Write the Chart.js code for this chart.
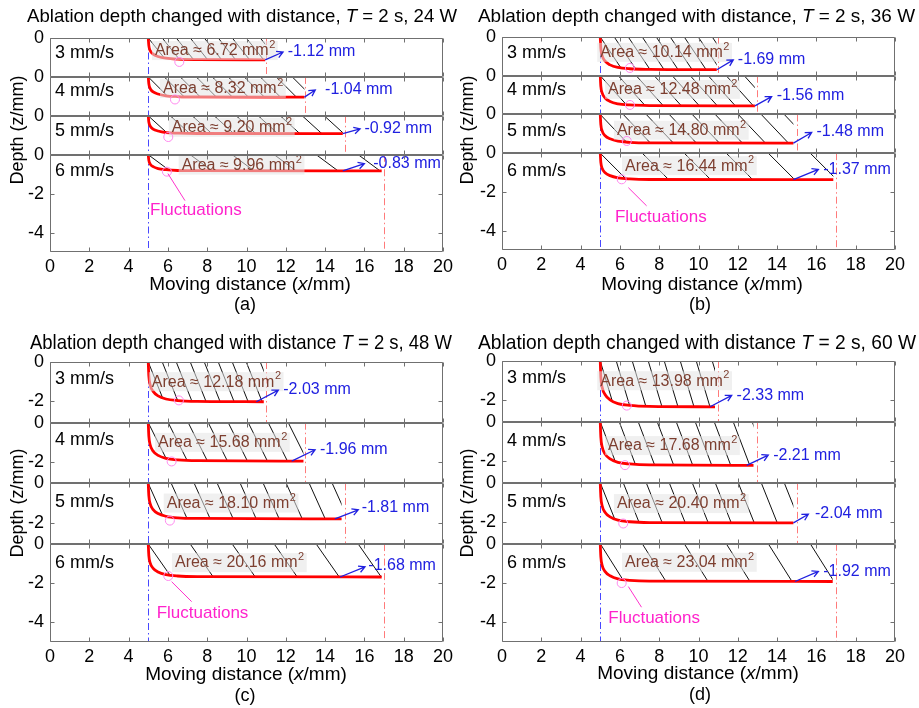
<!DOCTYPE html>
<html><head><meta charset="utf-8">
<script src="https://cdn.jsdelivr.net/npm/chart.js@4.4.0/dist/chart.umd.min.js"></script>
<style>
html,body{margin:0;padding:0;background:#fff;width:919px;height:708px;overflow:hidden}
canvas{position:absolute;display:block}
</style></head><body>
<canvas id="pa" width="459" height="325" style="left:0;top:0"></canvas>
<canvas id="pb" width="460" height="325" style="left:459px;top:0"></canvas>
<canvas id="pc" width="459" height="383" style="left:0;top:325px"></canvas>
<canvas id="pd" width="460" height="383" style="left:459px;top:325px"></canvas>
<script>
// ================= DATA =================
const speeds = ['3 mm/s', '4 mm/s', '5 mm/s', '6 mm/s'];
const powers = ['24 W', '36 W', '48 W', '60 W'];
const panelTags = ['(a)', '(b)', '(c)', '(d)'];
const xTickValues = [0, 2, 4, 6, 8, 10, 12, 14, 16, 18, 20];
const laserStartX = 5;
const scanEndX = [11, 13, 15, 17];
const kneeX = [5, 5.03, 5.1, 5.25, 5.5, 5.9, 6.5, 7.5];

const curveEndX24W = [10.95, 12.95, 14.9, 16.88];
const curveEndX36W = [10.93, 12.87, 14.83, 16.86];
const curveEndX48W = [10.88, 12.9, 14.84, 16.88];
const curveEndX60W = [10.84, 12.8, 14.83, 16.83];

// depth profile (mm) at kneeX points followed by the curve end point, one row per speed
const depth24W = [
  [0, -0.39, -0.65, -0.83, -0.95, -1.04, -1.09, -1.11, -1.12],
  [0, -0.36, -0.60, -0.77, -0.88, -0.97, -1.01, -1.03, -1.04],
  [0, -0.32, -0.53, -0.68, -0.78, -0.86, -0.89, -0.91, -0.92],
  [0, -0.29, -0.48, -0.61, -0.71, -0.77, -0.81, -0.82, -0.83]
];
const depth36W = [
  [0, -0.59, -0.98, -1.25, -1.44, -1.57, -1.64, -1.67, -1.69],
  [0, -0.55, -0.90, -1.15, -1.33, -1.45, -1.51, -1.54, -1.56],
  [0, -0.52, -0.86, -1.10, -1.26, -1.38, -1.44, -1.47, -1.48],
  [0, -0.48, -0.79, -1.01, -1.16, -1.27, -1.33, -1.36, -1.37]
];
const depth48W = [
  [0, -0.71, -1.18, -1.50, -1.73, -1.89, -1.97, -2.01, -2.03],
  [0, -0.69, -1.14, -1.45, -1.67, -1.82, -1.90, -1.94, -1.96],
  [0, -0.63, -1.05, -1.34, -1.54, -1.68, -1.76, -1.79, -1.81],
  [0, -0.59, -0.97, -1.24, -1.43, -1.56, -1.63, -1.66, -1.68]
];
const depth60W = [
  [0, -0.82, -1.35, -1.72, -1.98, -2.17, -2.26, -2.31, -2.33],
  [0, -0.77, -1.28, -1.64, -1.88, -2.06, -2.14, -2.19, -2.21],
  [0, -0.71, -1.18, -1.51, -1.73, -1.90, -1.98, -2.02, -2.04],
  [0, -0.67, -1.11, -1.42, -1.63, -1.79, -1.86, -1.90, -1.92]
];
const finalDepth24W = [-1.12, -1.04, -0.92, -0.83];
const finalDepth36W = [-1.69, -1.56, -1.48, -1.37];
const finalDepth48W = [-2.03, -1.96, -1.81, -1.68];
const finalDepth60W = [-2.33, -2.21, -2.04, -1.92];
const area24W = [6.72, 8.32, 9.20, 9.96];
const area36W = [10.14, 12.48, 14.80, 16.44];
const area48W = [12.18, 15.68, 18.10, 20.16];
const area60W = [13.98, 17.68, 20.40, 23.04];

const yMinUpper = [-2, -2, -3.1, -3.1];
const yMinLower = -5;
const upperTickValues = [[0], [0], [0, -2], [0, -2]];
const lowerTickValues = [0, -2, -4];

// ============ ANNOTATION ANCHORS (data coordinates) ============
const areaLabelAt = [
  [[5.34, -0.67], [5.75, -0.62], [6.2, -0.62], [6.7, -0.56]],
  [[5.0, -0.82], [5.4, -0.73], [5.85, -0.84], [6.26, -0.67]],
  [[5.18, -1.03], [5.5, -1.03], [5.94, -1.03], [6.36, -0.97]],
  [[5.0, -1.03], [5.4, -1.23], [5.85, -1.08], [6.26, -0.97]]
];
const depthArrow = [
  [[10.95, -1.12, 11.86, -0.72], [12.95, -1.04, 13.5, -0.67], [14.9, -0.92, 15.78, -0.67], [14.9, -0.83, 16.0, -0.46]],
  [[10.93, -1.69, 11.77, -1.18], [12.87, -1.56, 13.72, -1.08], [14.83, -1.48, 15.76, -0.93], [14.83, -1.37, 16.1, -0.84]],
  [[10.5, -2.03, 11.62, -1.44], [12.3, -1.96, 13.49, -1.38], [14.5, -1.81, 15.69, -1.35], [14.76, -1.68, 16.03, -1.16]],
  [[10.59, -2.33, 11.69, -1.75], [12.45, -2.21, 13.55, -1.69], [14.83, -2.04, 15.59, -1.6], [14.91, -1.92, 16.1, -1.41]]
];
const depthLabelAt = [
  [[12.1, -0.72], [14.0, -0.67], [16.0, -0.67], [16.45, -0.46]],
  [[12.0, -1.15], [13.98, -1.04], [16.0, -0.9], [16.35, -0.87]],
  [[11.87, -1.41], [13.74, -1.35], [15.86, -1.25], [16.2, -1.12]],
  [[11.94, -1.75], [13.8, -1.69], [15.93, -1.55], [16.35, -1.41]]
];
const fluctCircleAt = [
  [[6.58, -1.23], [6.36, -1.16], [6.02, -1.09], [5.95, -0.87]],
  [[6.51, -1.6], [6.51, -1.51], [6.35, -1.37], [6.09, -1.35]],
  [[6.56, -1.96], [6.19, -1.98], [6.1, -1.9], [6.02, -1.63]],
  [[6.35, -2.27], [6.26, -2.2], [6.17, -2.07], [6.09, -2.0]]
];
const fluctLabelAt = [[5.09, -2.87], [5.75, -3.32], [5.43, -3.54], [5.41, -3.79]];
const fluctLeader = [[6.0, -0.97, 6.87, -2.36], [6.43, -1.78, 7.36, -2.72], [6.19, -1.92, 7.21, -2.94], [6.43, -2.18, 7.1, -3.23]];
const speedLabelY = [[-0.78, -0.73, -0.78, -0.82], [-0.82, -0.73, -0.84, -0.92], [-0.88, -0.9, -0.96, -0.98], [-0.87, -0.96, -0.96, -0.98]];

// ============ STYLE / LAYOUT ============
const FONT = "'Liberation Sans', Arial, Helvetica, sans-serif";
const hatchSpacing = [[14, 16, 22, 42], [14, 18, 23, 42], [14, 20, 23, 42], [16, 19, 23, 42]];
const hatchRatio = [[0.8, 1.0, 1.1, 1.35], [0.67, 0.9, 0.95, 1.0], [0.4, 0.5, 0.45, 0.7], [0.3, 0.38, 0.4, 0.63]];

const layouts = [
  {canvas: 'pa', yAxisWidth: 50, padRight: 16, padTop: 38, xAxisHeight: 73,
   title: {cx: 242, cy: 17, w: 430, size: 19, comma: true},
   xTitle: {cx: 250, cy: 285}, tag: {cx: 245, cy: 305}, yTitle: {cx: 18, cy: 130}},
  {canvas: 'pb', yAxisWidth: 43, padRight: 24, padTop: 37, xAxisHeight: 75,
   title: {cx: 237.5, cy: 17, w: 437, size: 19, comma: true},
   xTitle: {cx: 243, cy: 285}, tag: {cx: 241, cy: 305}, yTitle: {cx: 9, cy: 130}},
  {canvas: 'pc', yAxisWidth: 50, padRight: 16, padTop: 37, xAxisHeight: 66,
   title: {cx: 241, cy: 18, w: 422, size: 21, comma: false},
   xTitle: {cx: 246, cy: 350}, tag: {cx: 245, cy: 371}, yTitle: {cx: 18, cy: 178}},
  {canvas: 'pd', yAxisWidth: 43, padRight: 24, padTop: 36, xAxisHeight: 66,
   title: {cx: 238, cy: 18, w: 438, size: 21, comma: false},
   xTitle: {cx: 239, cy: 349}, tag: {cx: 241, cy: 370}, yTitle: {cx: 9, cy: 178}}
];

const depths = [depth24W, depth36W, depth48W, depth60W];
const finals = [finalDepth24W, finalDepth36W, finalDepth48W, finalDepth60W];
const areas = [area24W, area36W, area48W, area60W];
const ends = [curveEndX24W, curveEndX36W, curveEndX48W, curveEndX60W];

function dashedV(ctx, x, y1, y2, color) {
  ctx.save();
  ctx.strokeStyle = color; ctx.lineWidth = 1;
  ctx.setLineDash([7, 3, 1.5, 3]);
  ctx.beginPath(); ctx.moveTo(Math.round(x) + 0.5, y1); ctx.lineTo(Math.round(x) + 0.5, y2); ctx.stroke();
  ctx.restore();
}

function arrow(ctx, x1, y1, x2, y2, color) {
  ctx.save();
  ctx.strokeStyle = color; ctx.lineWidth = 1.3;
  ctx.beginPath(); ctx.moveTo(x1, y1); ctx.lineTo(x2, y2);
  const a = Math.atan2(y2 - y1, x2 - x1), L = 7, s = 0.5;
  ctx.moveTo(x2 - L * Math.cos(a - s), y2 - L * Math.sin(a - s));
  ctx.lineTo(x2, y2);
  ctx.lineTo(x2 - L * Math.cos(a + s), y2 - L * Math.sin(a + s));
  ctx.stroke();
  ctx.restore();
}

function makePlugin(p) {
  const L = layouts[p];
  return {
    id: 'panel' + p,
    beforeDatasetsDraw(chart) {
      const ctx = chart.ctx, xs = chart.scales.x, area = chart.chartArea;
      for (let i = 0; i < 4; i++) {
        const ys = chart.scales['s' + i];
        const pts = chart.data.datasets[i].data;
        const y0 = ys.getPixelForValue(0);
        ctx.save();
        ctx.beginPath();
        ctx.moveTo(xs.getPixelForValue(pts[0].x), y0);
        ctx.lineTo(xs.getPixelForValue(pts[pts.length - 1].x), y0);
        for (let k = pts.length - 1; k >= 0; k--) ctx.lineTo(xs.getPixelForValue(pts[k].x), ys.getPixelForValue(pts[k].y));
        ctx.closePath();
        ctx.clip();
        ctx.strokeStyle = '#111'; ctx.lineWidth = 1;
        const h = ys.bottom - ys.top;
        const xStart = xs.getPixelForValue(laserStartX), xEnd = xs.getPixelForValue(pts[pts.length - 1].x);
        ctx.beginPath();
        for (let xt = xStart; xt < xEnd; xt += hatchSpacing[p][i]) {
          ctx.moveTo(xt, y0); ctx.lineTo(xt + hatchRatio[p][i] * h, y0 + h);
        }
        ctx.stroke();
        ctx.restore();
        dashedV(ctx, xs.getPixelForValue(scanEndX[i]), ys.top, ys.bottom, '#ff7a7a');
      }
      dashedV(ctx, xs.getPixelForValue(laserStartX), area.top, area.bottom, '#4848ff');
    },
    afterDatasetsDraw(chart) {
      const ctx = chart.ctx, xs = chart.scales.x, area = chart.chartArea;
      const X = v => xs.getPixelForValue(v);
      ctx.save();
      ctx.textBaseline = 'middle'; ctx.textAlign = 'left';
      for (let i = 0; i < 4; i++) {
        const ys = chart.scales['s' + i];
        const Y = v => ys.getPixelForValue(v);
        ctx.font = '18px ' + FONT; ctx.fillStyle = '#000';
        ctx.fillText(speeds[i], area.left + 5, Y(speedLabelY[p][i]));
        const txt = 'Area \u2248 ' + areas[p][i].toFixed(2) + ' mm';
        ctx.font = '16px ' + FONT;
        const w1 = ctx.measureText(txt).width;
        ctx.font = '11px ' + FONT;
        const w2 = ctx.measureText('2').width;
        const ax = X(areaLabelAt[p][i][0]), ay = Y(areaLabelAt[p][i][1]);
        ctx.fillStyle = 'rgba(228,228,228,0.55)';
        ctx.fillRect(ax - 3, ay - 10, w1 + w2 + 6, 19);
        ctx.fillStyle = '#7d3f30';
        ctx.font = '16px ' + FONT;
        ctx.fillText(txt, ax, ay);
        ctx.font = '11px ' + FONT;
        ctx.fillText('2', ax + w1 + 0.5, ay - 6);
        const c = fluctCircleAt[p][i];
        ctx.strokeStyle = '#ff88ee'; ctx.lineWidth = 1;
        ctx.beginPath(); ctx.arc(X(c[0]), Y(c[1]), 4.5, 0, Math.PI * 2); ctx.stroke();
        const d = depthArrow[p][i];
        arrow(ctx, X(d[0]), Y(d[1]), X(d[2]), Y(d[3]), '#2020e0');
        ctx.fillStyle = '#2020e0';
        ctx.font = '16px ' + FONT;
        ctx.fillText(finals[p][i].toFixed(2) + ' mm', X(depthLabelAt[p][i][0]), Y(depthLabelAt[p][i][1]));
      }
      const yb = chart.scales.s3;
      const f = fluctLeader[p];
      ctx.strokeStyle = '#ff33cc'; ctx.lineWidth = 1;
      ctx.beginPath(); ctx.moveTo(X(f[0]), yb.getPixelForValue(f[1])); ctx.lineTo(X(f[2]), yb.getPixelForValue(f[3])); ctx.stroke();
      ctx.fillStyle = '#ff22cc'; ctx.font = '17px ' + FONT;
      ctx.fillText('Fluctuations', X(fluctLabelAt[p][0]), yb.getPixelForValue(fluctLabelAt[p][1]));

      ctx.strokeStyle = '#707070'; ctx.lineWidth = 1;
      const l = Math.round(area.left) + 0.5, r = Math.round(area.right) - 0.5;
      for (let i = 0; i < 4; i++) {
        const ys = chart.scales['s' + i];
        const t = Math.round(ys.top) + 0.5, b = Math.round(ys.bottom) - 0.5;
        ctx.beginPath();
        ctx.rect(l, t, r - l, b - t);
        for (const v of xTickValues) {
          const px = Math.round(X(v)) + 0.5;
          ctx.moveTo(px, t); ctx.lineTo(px, t + 4);
          ctx.moveTo(px, b); ctx.lineTo(px, b - 4);
        }
        const tv = i === 3 ? lowerTickValues : upperTickValues[p];
        for (const v of tv) {
          const py = Math.round(ys.getPixelForValue(v)) + 0.5;
          ctx.moveTo(l, py); ctx.lineTo(l + 4, py);
          ctx.moveTo(r, py); ctx.lineTo(r - 4, py);
        }
        ctx.stroke();
      }
      ctx.restore();
    },
    afterDraw(chart) {
      const ctx = chart.ctx;
      ctx.save();
      ctx.fillStyle = '#000'; ctx.textBaseline = 'middle';
      const T = L.title;
      const parts = [
        {t: 'Ablation depth changed with distance' + (T.comma ? ', ' : ' '), it: false},
        {t: 'T', it: true},
        {t: ' = 2 s, ' + powers[p], it: false}
      ];
      let total = 0;
      for (const q of parts) { ctx.font = (q.it ? 'italic ' : '') + T.size + 'px ' + FONT; q.w = ctx.measureText(q.t).width; total += q.w; }
      ctx.save();
      ctx.translate(T.cx - T.w / 2, T.cy);
      ctx.scale(T.w / total, 1);
      ctx.textAlign = 'left';
      let x = 0;
      for (const q of parts) { ctx.font = (q.it ? 'italic ' : '') + T.size + 'px ' + FONT; ctx.fillText(q.t, x, 0); x += q.w; }
      ctx.restore();
      const xp = [{t: 'Moving distance (', it: false}, {t: 'x', it: true}, {t: '/mm)', it: false}];
      total = 0;
      for (const q of xp) { ctx.font = (q.it ? 'italic ' : '') + '19px ' + FONT; q.w = ctx.measureText(q.t).width; total += q.w; }
      ctx.textAlign = 'left';
      x = L.xTitle.cx - total / 2;
      for (const q of xp) { ctx.font = (q.it ? 'italic ' : '') + '19px ' + FONT; ctx.fillText(q.t, x, L.xTitle.cy); x += q.w; }
      ctx.textAlign = 'center'; ctx.font = '18px ' + FONT;
      ctx.fillText(panelTags[p], L.tag.cx, L.tag.cy);
      ctx.save();
      ctx.translate(L.yTitle.cx, L.yTitle.cy);
      ctx.rotate(-Math.PI / 2);
      ctx.font = '18px ' + FONT;
      ctx.fillText('Depth (z/mm)', 0, 0);
      ctx.restore();
      ctx.restore();
    }
  };
}

function buildPanel(p) {
  const L = layouts[p];
  const scales = {
    x: {
      type: 'linear', min: 0, max: 20,
      afterBuildTicks: s => { s.ticks = xTickValues.map(v => ({value: v})); },
      ticks: {font: {family: FONT, size: 18}, color: '#000', padding: 4, maxRotation: 0, autoSkip: false, callback: v => String(v)},
      grid: {display: false, drawTicks: false},
      border: {display: false},
      afterFit: s => { s.height = L.xAxisHeight; }
    }
  };
  // bottom strip defined first: the left stack is laid out from the last defined axis at the top
  for (let i = 3; i >= 0; i--) {
    const lower = i === 3;
    const min = lower ? yMinLower : yMinUpper[p];
    const tv = lower ? lowerTickValues : upperTickValues[p];
    scales['s' + i] = {
      type: 'linear', position: 'left', stack: 'depth', stackWeight: -min,
      min: min, max: 0, offset: false,
      afterBuildTicks: s => { s.ticks = tv.map(v => ({value: v})); },
      ticks: {font: {family: FONT, size: 18}, color: '#000', padding: 6, callback: v => String(v)},
      grid: {display: false, drawTicks: false},
      border: {display: false},
      afterFit: s => { s.width = L.yAxisWidth; }
    };
  }
  const datasets = [];
  for (let i = 0; i < 4; i++) {
    const xsArr = kneeX.concat([ends[p][i]]);
    datasets.push({
      label: speeds[i],
      data: xsArr.map((x, k) => ({x: x, y: depths[p][i][k]})),
      yAxisID: 's' + i,
      borderColor: '#ff0000', borderWidth: 2.8,
      pointRadius: 0, fill: false,
      cubicInterpolationMode: 'monotone'
    });
  }
  new Chart(document.getElementById(L.canvas), {
    type: 'line',
    data: {datasets: datasets},
    options: {
      responsive: false, animation: false, devicePixelRatio: 1, events: [],
      layout: {padding: {left: 0, right: L.padRight, top: L.padTop, bottom: 0}},
      plugins: {legend: {display: false}, tooltip: {enabled: false}, title: {display: false}},
      scales: scales
    },
    plugins: [makePlugin(p)]
  });
}

for (let p = 0; p < 4; p++) buildPanel(p);
</script>
</body></html>
